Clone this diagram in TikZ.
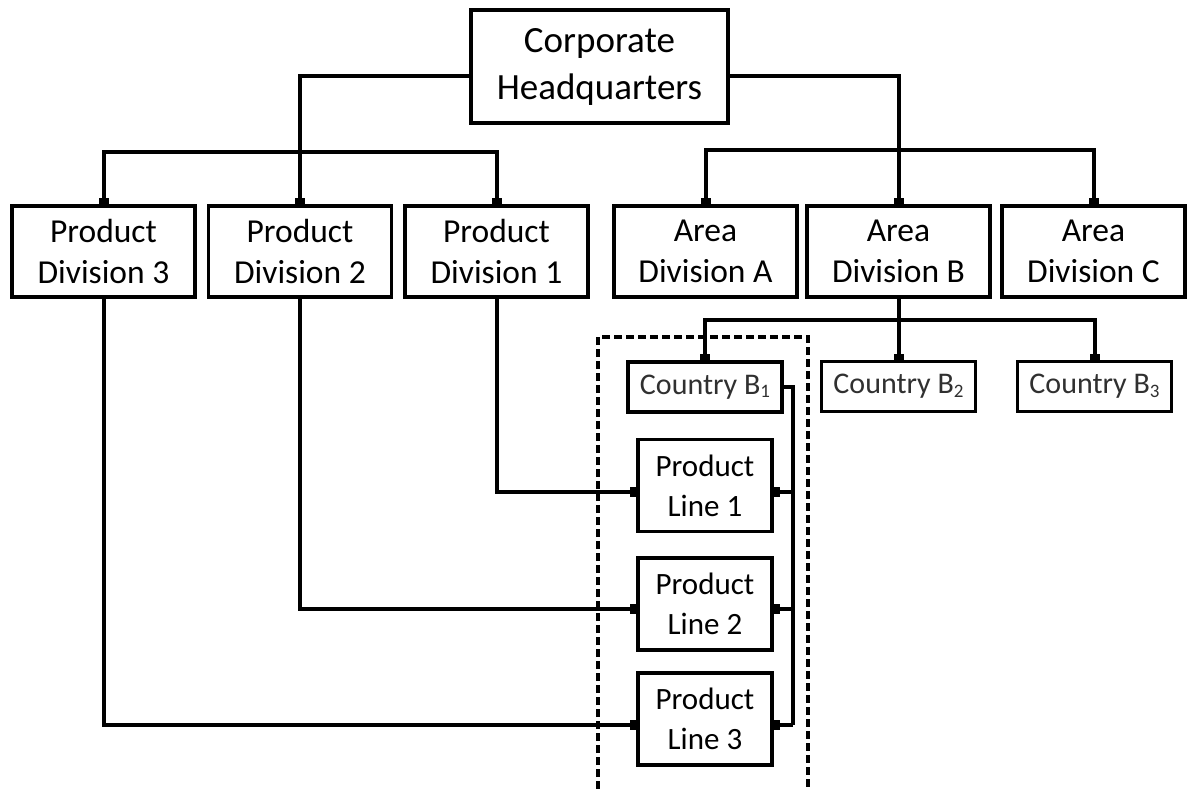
\documentclass[tikz,border=0pt]{standalone}
\usepackage{fontspec}
\setmainfont{Carlito}
\usetikzlibrary{arrows.meta}
\definecolor{countrytext}{HTML}{303030}
\newcommand{\subdigit}[1]{\raisebox{-0.12em}{\fontsize{19}{19}\selectfont #1}}
\begin{document}
\begin{tikzpicture}[x=1pt,y=-1pt,
  box/.style={draw,line width=3.2pt,inner sep=0pt,align=center,fill=white},
  hqbox/.style={box,minimum width=257pt,minimum height=113pt,font=\fontsize{37}{47}\selectfont},
  divbox/.style={box,minimum width=183pt,minimum height=91pt,font=\fontsize{33.5}{41}\selectfont},
  countrybox/.style={box,minimum width=154pt,minimum height=50pt,font=\fontsize{30}{36}\selectfont,text=countrytext},
  linebox/.style={box,minimum width=134pt,minimum height=92pt,font=\fontsize{31}{40}\selectfont},
  link/.style={line width=4pt},
  tip/.style={-{Square[length=6pt,width=10pt]}},
  unitframe/.style={line width=3.2pt,dash pattern=on 8pt off 4pt}
]
\useasboundingbox (0,0) rectangle (1194,789);

% dashed frame around the country unit
\draw[unitframe] (598,789) -- (598,337) -- (808,337) -- (808,789);

% boxes
\node[hqbox] (hq) at (599.5,66.5) {Corporate\\Headquarters};

\node[divbox] (pd3) at (103.5,251.5) {Product\\Division 3};
\node[divbox] (pd2) at (300,251.5) {Product\\Division 2};
\node[divbox] (pd1) at (496.5,251.5) {Product\\Division 1};
\node[divbox] (ada) at (705.5,251.5) {Area\\Division A};
\node[divbox] (adb) at (898.5,251.5) {Area\\Division B};
\node[divbox] (adc) at (1093.5,251.5) {Area\\Division C};

\node[countrybox] (cb1) at (705,387) {Country B\subdigit{1}};
\node[countrybox] (cb2) at (898.5,386.5) {Country B\subdigit{2}};
\node[countrybox] (cb3) at (1094.5,386.5) {Country B\subdigit{3}};

\node[linebox] (pl1) at (705,485.5) {Product\\Line 1};
\node[linebox] (pl2) at (705,604) {Product\\Line 2};
\node[linebox] (pl3) at (705,719) {Product\\Line 3};

% bus points
\coordinate (lbus) at (300,152);
\coordinate (rbus) at (898.5,150);
\coordinate (cbus) at (898.5,320);
\coordinate (v1) at (793,492);
\coordinate (v2) at (793,609);
\coordinate (v3) at (793,725);

% headquarters to divisions
\draw[link] ([yshift=-9.5pt]hq.west) -| (lbus);
\draw[link,tip] (lbus) -| (pd3.north);
\draw[link,tip] (lbus) -- (pd2.north);
\draw[link,tip] (lbus) -| (pd1.north);

\draw[link] ([yshift=-9.5pt]hq.east) -| (rbus);
\draw[link,tip] (rbus) -| (ada.north);
\draw[link,tip] (rbus) -- (adb.north);
\draw[link,tip] (rbus) -| (adc.north);

% area division B to countries
\draw[link] (adb.south) -- (cbus);
\draw[link,tip] (cbus) -| (cb1.north);
\draw[link,tip] (cbus) -- (cb2.north);
\draw[link,tip] (cbus) -| (cb3.north);

% country B1 to its product lines
\draw[link] (cb1.east) -| (v3);
\draw[link,tip] (v1) -- (v1 -| pl1.east);
\draw[link,tip] (v2) -- (v2 -| pl2.east);
\draw[link,tip] (v3) -- (v3 -| pl3.east);

% product divisions to product lines
\draw[link,tip] (pd1.south) |- (v1 -| pl1.west);
\draw[link,tip] (pd2.south) |- (v2 -| pl2.west);
\draw[link,tip] (pd3.south) |- (v3 -| pl3.west);
\end{tikzpicture}
\end{document}
